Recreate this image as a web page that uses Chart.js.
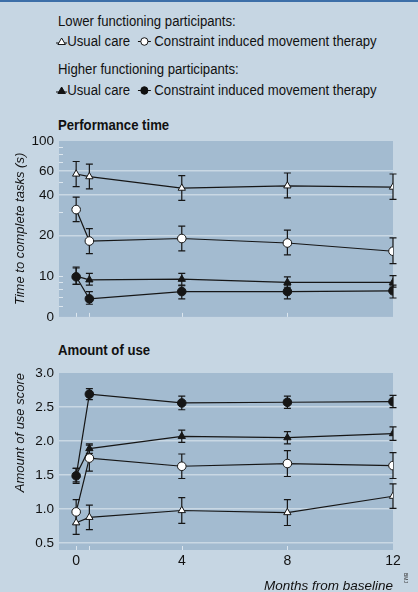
<!DOCTYPE html>
<html>
<head>
<meta charset="utf-8">
<script src="https://cdn.jsdelivr.net/npm/chart.js@4.4.1/dist/chart.umd.min.js"></script>
<style>
  html, body { margin: 0; padding: 0; }
  body {
    width: 418px; height: 592px; position: relative; overflow: hidden;
    background: #c6d6e3; border-top: 2px solid #3d6fa8; box-sizing: border-box;
    font-family: "Liberation Sans", Arial, sans-serif;
    color: #111;
  }
  .txt, .title, .row {
    position: absolute; font-size: 14px; line-height: 16px; white-space: nowrap;
    transform: scaleX(0.94); transform-origin: left center;
  }
  .title { font-weight: bold; }
  .row { left: 56px; display: flex; align-items: center; }
  .row svg { display: block; }
  canvas { position: absolute; left: 0; }
  #c1 { top: 108px; }
  #c2 { top: 328px; }
  .stamp { position: absolute; left: 409px; top: 571px; font-size: 5px; transform: rotate(90deg); transform-origin: left top; color: #333; }
</style>
</head>
<body>
<div class="txt" style="left:58px; top:11px;">Lower functioning participants:</div>
<div class="row" style="top:31px;">
  <svg width="12" height="12"><line x1="0" y1="8" x2="12" y2="8" stroke="#111" stroke-width="1.2"/><polygon points="6,3 10,9.5 2,9.5" fill="#fff" stroke="#111" stroke-width="1"/></svg>
  <span>Usual care&nbsp;&nbsp;</span>
  <svg width="14" height="12"><line x1="0" y1="6.5" x2="14" y2="6.5" stroke="#111" stroke-width="1.2"/><circle cx="7" cy="6.5" r="3.8" fill="#fff" stroke="#111" stroke-width="1"/></svg>
  <span>&nbsp;Constraint induced movement therapy</span>
</div>
<div class="txt" style="left:58px; top:59px;">Higher functioning participants:</div>
<div class="row" style="top:80px;">
  <svg width="12" height="12"><line x1="0" y1="8" x2="12" y2="8" stroke="#111" stroke-width="1.2"/><polygon points="6,3 10,9.5 2,9.5" fill="#111" stroke="#111" stroke-width="1"/></svg>
  <span>Usual care&nbsp;&nbsp;</span>
  <svg width="14" height="12"><line x1="0" y1="6.5" x2="14" y2="6.5" stroke="#111" stroke-width="1.2"/><circle cx="7" cy="6.5" r="3.8" fill="#111" stroke="#111" stroke-width="1"/></svg>
  <span>&nbsp;Constraint induced movement therapy</span>
</div>

<div class="title" style="left:58px; top:115px;">Performance time</div>
<div class="title" style="left:58px; top:340px;">Amount of use</div>

<canvas id="c1" width="418" height="220"></canvas>
<canvas id="c2" width="418" height="264"></canvas>
<div class="stamp">BMJ</div>

<script>
// Data
const months = [0, 0.5, 4, 8, 12];
const monthTicks = [0, 4, 8, 12];
const monthMarks = [0, 0.5, 4, 8];

// Performance time (s), log axis; bounds are [low, high] of error bars
const perfLowerUsual = [57, 54.5, 44.8, 46.6, 45.6];
const perfLowerUsualBounds = [[46, 70.5], [44.3, 67.5], [36.4, 55.5], [37.9, 58], [37, 57]];
const perfLowerCimt = [31.1, 18.2, 19.0, 17.6, 15.3];
const perfLowerCimtBounds = [[25.3, 38.5], [14.7, 22.5], [15.4, 23.5], [14.4, 21.9], [12.4, 19.2]];
const perfHigherUsual = [10.0, 9.4, 9.5, 9.0, 9.0];
const perfHigherUsualBounds = [[8.7, 11.5], [8.6, 10.5], [8.6, 10.5], [8.2, 9.9], [8.3, 10.1]];
const perfHigherCimt = [9.9, 6.8, 7.7, 7.7, 7.8];
const perfHigherCimtBounds = [[8.7, 11.7], [6.2, 7.7], [6.8, 8.5], [6.8, 8.5], [6.9, 8.6]];
const perfTicks = [5, 10, 20, 40, 60, 100];
const perfTickLabels = ['0', '10', '20', '40', '60', '100'];
const perfGridLines = [20, 40, 60];
const perfMinorTicks = [6, 7, 8, 9, 10, 30, 50, 70, 80, 90];

// Amount of use score, error values are +/-
const useLowerUsual = [0.80, 0.88, 0.98, 0.95, 1.19];
const useLowerUsualErr = [0.17, 0.18, 0.19, 0.19, 0.18];
const useLowerCimt = [0.96, 1.75, 1.63, 1.67, 1.64];
const useLowerCimtErr = [0.18, 0.19, 0.18, 0.19, 0.19];
const useHigherUsual = [1.50, 1.89, 2.07, 2.05, 2.11];
const useHigherUsualErr = [0.10, 0.07, 0.09, 0.09, 0.10];
const useHigherCimt = [1.49, 2.69, 2.56, 2.57, 2.58];
const useHigherCimtErr = [0.11, 0.08, 0.10, 0.09, 0.09];
const useTicks = [0.5, 1.0, 1.5, 2.0, 2.5, 3.0];

const FONT = '"Liberation Sans", Arial, sans-serif';
const INK = '#161616';
const PLOT_BG = '#a3bbd0';
const GRID = '#c9d8e4';

function series(values, bounds, style, fill) {
    return {
        data: months.map((m, i) => ({ x: m, y: values[i] })),
        bounds: bounds,
        borderColor: INK,
        borderWidth: 1.2,
        pointStyle: style,
        pointRadius: style === 'circle' ? 4.3 : 4.2,
        pointBackgroundColor: fill,
        pointBorderColor: INK,
        pointBorderWidth: 1,
        tension: 0,
        showLine: true
    };
}

function withErr(values, err) {
    return values.map((v, i) => [v - err[i], v + err[i]]);
}

// Plot area background
const plotBg = {
    id: 'plotBg',
    beforeDraw(chart) {
        const { ctx, chartArea: a } = chart;
        ctx.save();
        ctx.fillStyle = PLOT_BG;
        ctx.fillRect(a.left, a.top, a.right - a.left, a.bottom - a.top);
        ctx.restore();
    }
};

// Error bars, drawn under the markers
const errorBars = {
    id: 'errorBars',
    beforeDatasetsDraw(chart) {
        const ctx = chart.ctx;
        const y = chart.scales.y;
        ctx.save();
        ctx.strokeStyle = INK;
        ctx.lineWidth = 1.2;
        chart.data.datasets.forEach((ds, i) => {
            chart.getDatasetMeta(i).data.forEach((pt, j) => {
                const [lo, hi] = ds.bounds[j];
                const top = y.getPixelForValue(hi);
                const bot = y.getPixelForValue(lo);
                ctx.beginPath();
                ctx.moveTo(pt.x, top); ctx.lineTo(pt.x, bot);
                ctx.moveTo(pt.x - 3.5, top); ctx.lineTo(pt.x + 3.5, top);
                ctx.moveTo(pt.x - 3.5, bot); ctx.lineTo(pt.x + 3.5, bot);
                ctx.stroke();
            });
        });
        ctx.restore();
    }
};

// Small white tick marks inside the plot edges
const innerTicks = {
    id: 'innerTicks',
    beforeDatasetsDraw(chart, args, opts) {
        const { ctx, chartArea: a, scales } = chart;
        ctx.save();
        ctx.strokeStyle = '#dce6ee';
        ctx.lineWidth = 1;
        ctx.beginPath();
        (opts.y || []).forEach(v => {
            const py = Math.round(scales.y.getPixelForValue(v)) + 0.5;
            ctx.moveTo(a.left, py); ctx.lineTo(a.left + 4, py);
        });
        (opts.x || []).forEach(v => {
            const px = Math.round(scales.x.getPixelForValue(v)) + 0.5;
            ctx.moveTo(px, a.bottom); ctx.lineTo(px, a.bottom - 4);
        });
        ctx.stroke();
        ctx.restore();
    }
};

const xScale = (showLabels) => ({
    type: 'linear',
    min: -0.65,
    max: 12,
    display: showLabels,
    afterBuildTicks: s => { s.ticks = monthTicks.map(v => ({ value: v })); },
    afterFit: s => { if (showLabels) s.height = 44; },
    grid: { display: false, drawTicks: false },
    border: { display: false },
    ticks: { color: '#111', font: { family: FONT, size: 14 }, padding: 3, maxRotation: 0 },
    title: {
        display: showLabels,
        text: 'Months from baseline',
        align: 'end',
        color: '#111',
        font: { family: FONT, size: 13.5, style: 'italic' },
        padding: { top: 4, bottom: 0 }
    }
});

const yTitle = (text, align) => ({
    display: true,
    text: text,
    align: align,
    color: '#111',
    font: { family: FONT, size: 13, style: 'italic' },
    padding: { top: 13, bottom: 0 }
});

// Performance time chart
new Chart(document.getElementById('c1'), {
    type: 'scatter',
    data: {
        datasets: [
            series(perfLowerUsual, perfLowerUsualBounds, 'triangle', '#ffffff'),
            series(perfHigherUsual, perfHigherUsualBounds, 'triangle', INK),
            series(perfLowerCimt, perfLowerCimtBounds, 'circle', '#ffffff'),
            series(perfHigherCimt, perfHigherCimtBounds, 'circle', INK)
        ]
    },
    options: {
        responsive: false,
        animation: false,
        layout: { padding: { top: 31, bottom: 11, left: 0, right: 25 } },
        plugins: {
            legend: { display: false },
            tooltip: { enabled: false },
            innerTicks: { y: perfMinorTicks, x: monthMarks }
        },
        scales: {
            x: xScale(false),
            y: {
                type: 'logarithmic',
                min: 5,
                max: 100,
                afterBuildTicks: s => { s.ticks = perfTicks.map(v => ({ value: v })); },
                afterFit: s => { s.width = 59; },
                grid: {
                    drawTicks: false,
                    lineWidth: 1.5,
                    color: c => perfGridLines.includes(c.tick.value) ? GRID : 'rgba(0,0,0,0)'
                },
                border: { display: false },
                ticks: {
                    color: '#111',
                    font: { family: FONT, size: 13.5 },
                    padding: 5,
                    autoSkip: false,
                    callback: v => perfTickLabels[perfTicks.indexOf(v)]
                },
                title: yTitle('Time to complete tasks (s)', 'center')
            }
        }
    },
    plugins: [plotBg, errorBars, innerTicks]
});

// Amount of use chart
new Chart(document.getElementById('c2'), {
    type: 'scatter',
    data: {
        datasets: [
            series(useLowerUsual, withErr(useLowerUsual, useLowerUsualErr), 'triangle', '#ffffff'),
            series(useHigherUsual, withErr(useHigherUsual, useHigherUsualErr), 'triangle', INK),
            series(useLowerCimt, withErr(useLowerCimt, useLowerCimtErr), 'circle', '#ffffff'),
            series(useHigherCimt, withErr(useHigherCimt, useHigherCimtErr), 'circle', INK)
        ]
    },
    options: {
        responsive: false,
        animation: false,
        layout: { padding: { top: 43, bottom: 0, left: 0, right: 25 } },
        plugins: {
            legend: { display: false },
            tooltip: { enabled: false },
            innerTicks: { y: [], x: monthMarks }
        },
        scales: {
            x: xScale(true),
            y: {
                type: 'linear',
                min: 0.4,
                max: 3.0,
                afterBuildTicks: s => { s.ticks = useTicks.map(v => ({ value: v })); },
                afterFit: s => { s.width = 59; },
                grid: {
                    drawTicks: false,
                    lineWidth: 1.5,
                    color: c => c.tick.value < 3 ? GRID : 'rgba(0,0,0,0)'
                },
                border: { display: false },
                ticks: {
                    color: '#111',
                    font: { family: FONT, size: 13.5 },
                    padding: 5,
                    autoSkip: false,
                    callback: v => v.toFixed(1)
                },
                title: yTitle('Amount of use score', 'end')
            }
        }
    },
    plugins: [plotBg, errorBars, innerTicks]
});
</script>
</body>
</html>
